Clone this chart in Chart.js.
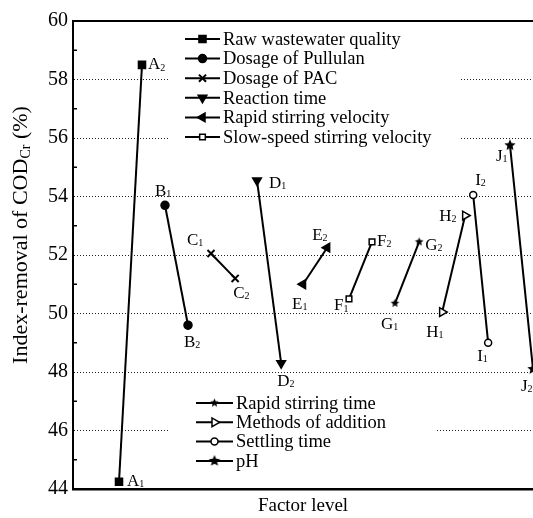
<!DOCTYPE html>
<html>
<head>
<meta charset="utf-8">
<script src="https://cdn.jsdelivr.net/npm/chart.js@4.4.0/dist/chart.umd.min.js"></script>
<style>
  html, body { margin: 0; padding: 0; background: #fff; }
  #wrap { width: 533px; height: 518px; }
</style>
</head>
<body>
<div id="wrap"><canvas id="myChart" width="533" height="518"></canvas></div>
<script>
// factors and their names
var factorLetters = ['A', 'B', 'C', 'D', 'E', 'F', 'G', 'H', 'I', 'J'];
var factorNames = ['Raw wastewater quality', 'Dosage of Pullulan', 'Dosage of PAC', 'Reaction time',
  'Rapid stirring velocity', 'Slow-speed stirring velocity', 'Rapid stirring time',
  'Methods of addition', 'Settling time', 'pH'];

// position along the "factor level" axis, level 1 and level 2
var level1X = [1, 3, 5, 7, 9, 11, 13, 15.05, 17.05, 18];
var level2X = [2, 4, 6.05, 8.05, 10.05, 12, 14.05, 16.05, 16.4, 19];

// index-removal of COD (%), level 1 and level 2
var level1Y = [44.25, 53.7, 52.05, 54.55, 51.0, 50.5, 50.35, 50.05, 49.0, 55.75];
var level2Y = [58.5, 49.6, 51.2, 48.3, 52.25, 52.45, 52.45, 53.35, 54.05, 48.1];

var yMin = 44, yMax = 60;

// ---- styles below ----
var FONT = '"Liberation Serif", "Times New Roman", serif';
Chart.defaults.font.family = FONT;
Chart.defaults.color = '#000';

function starImage(r) {
  var c = document.createElement('canvas');
  var s = Math.ceil(r * 2 + 2);
  c.width = s; c.height = s;
  var g = c.getContext('2d');
  g.fillStyle = '#000';
  g.beginPath();
  for (var i = 0; i < 10; i++) {
    var rr = i % 2 === 0 ? r : r * 0.45;
    var a = -Math.PI / 2 + i * Math.PI / 5;
    var px = s / 2 + rr * Math.cos(a), py = s / 2 + rr * Math.sin(a);
    if (i === 0) g.moveTo(px, py); else g.lineTo(px, py);
  }
  g.closePath();
  g.fill();
  return c;
}

var markers = [
  { pointStyle: 'rect', radius: 5, rotation: 0, fill: '#000' },
  { pointStyle: 'circle', radius: 4, rotation: 0, fill: '#000' },
  { pointStyle: 'crossRot', radius: 5, rotation: 0, fill: '#000' },
  { pointStyle: 'triangle', radius: 5, rotation: 180, fill: '#000' },
  { pointStyle: 'triangle', radius: 5, rotation: 270, fill: '#000' },
  { pointStyle: 'rect', radius: 4, rotation: 0, fill: '#fff' },
  { pointStyle: starImage(4.5), radius: 5, rotation: 0, fill: '#000' },
  { pointStyle: 'triangle', radius: 5, rotation: 90, fill: '#fff' },
  { pointStyle: 'circle', radius: 3.5, rotation: 0, fill: '#fff' },
  { pointStyle: starImage(6), radius: 6, rotation: 0, fill: '#000' }
];

// label offsets (px) from each point: [level1, level2]
var labelOffsets = [
  [[8, 0], [6, 0]],
  [[-10, -14], [-4, 17]],
  [[-24, -13], [-2, 15]],
  [[12, 3], [-4, 18]],
  [[-11, 20], [-15, -12]],
  [[-15, 7], [5, 0]],
  [[-14, 21], [6, 4]],
  [[-16, 20], [-26, 1]],
  [[-11, 14], [2, -15]],
  [[-14, 11], [-12, 17]]
];

// legend layout
var legendGroups = [
  { from: 0, to: 6, lineX1: 185, lineX2: 220, textX: 223, y0: 39, dy: 19.6, box: [170, 28, 290, 122] },
  { from: 6, to: 10, lineX1: 196, lineX2: 233, textX: 236, y0: 403, dy: 19.3, box: [168, 392, 267, 80] }
];

var datasets = factorLetters.map(function(letter, i) {
  var m = markers[i];
  return {
    label: factorNames[i],
    data: [{ x: level1X[i], y: level1Y[i] }, { x: level2X[i], y: level2Y[i] }],
    borderColor: '#000',
    borderWidth: 2,
    tension: 0,
    pointStyle: m.pointStyle,
    pointRadius: m.radius,
    pointRotation: m.rotation,
    pointBackgroundColor: m.fill,
    pointBorderColor: '#000',
    pointBorderWidth: m.pointStyle === 'crossRot' ? 2 : 1.5
  };
});

function drawMarker(ctx, i, x, y) {
  var m = markers[i];
  ctx.save();
  ctx.fillStyle = m.fill;
  ctx.strokeStyle = '#000';
  ctx.lineWidth = m.pointStyle === 'crossRot' ? 2 : 1.5;
  Chart.helpers.drawPoint(ctx, { pointStyle: m.pointStyle, rotation: m.rotation, radius: m.radius, borderWidth: ctx.lineWidth }, x, y);
  ctx.restore();
}

var decorPlugin = {
  id: 'decor',
  beforeDatasetsDraw: function(chart) {
    var ctx = chart.ctx, area = chart.chartArea, ys = chart.scales.y;
    ctx.save();
    ctx.fillStyle = '#fff';
    legendGroups.forEach(function(g) { ctx.fillRect(g.box[0], g.box[1], g.box[2], g.box[3]); });
    ctx.strokeStyle = '#000';
    ctx.lineWidth = 1.5;
    for (var v = yMin + 1; v < yMax; v += 2) {
      var py = ys.getPixelForValue(v);
      ctx.beginPath(); ctx.moveTo(area.left, py); ctx.lineTo(area.left + 4, py); ctx.stroke();
    }
    ctx.lineWidth = 2;
    ctx.beginPath(); ctx.moveTo(area.left - 1, area.top); ctx.lineTo(area.right, area.top); ctx.stroke();
    ctx.restore();
  },
  afterDraw: function(chart) {
    var ctx = chart.ctx;
    ctx.save();
    ctx.fillStyle = '#000';
    ctx.textBaseline = 'middle';
    // point labels with subscripts
    factorLetters.forEach(function(letter, i) {
      var meta = chart.getDatasetMeta(i);
      meta.data.forEach(function(pt, k) {
        var off = labelOffsets[i][k];
        var x = pt.x + off[0], y = pt.y + off[1];
        ctx.font = '17px ' + FONT;
        ctx.fillText(letter, x, y);
        var w = ctx.measureText(letter).width;
        ctx.font = '10px ' + FONT;
        ctx.fillText(String(k + 1), x + w, y + 3);
      });
    });
    // legends
    legendGroups.forEach(function(g) {
      for (var i = g.from; i < g.to; i++) {
        var y = g.y0 + (i - g.from) * g.dy;
        ctx.strokeStyle = '#000';
        ctx.lineWidth = 2;
        ctx.beginPath(); ctx.moveTo(g.lineX1, y); ctx.lineTo(g.lineX2, y); ctx.stroke();
        drawMarker(ctx, i, (g.lineX1 + g.lineX2) / 2, y);
        ctx.fillStyle = '#000';
        ctx.font = '18.5px ' + FONT;
        ctx.textBaseline = 'middle';
        ctx.fillText(factorNames[i], g.textX, y + 1);
      }
    });
    // y-axis title with subscript
    ctx.translate(21, 235);
    ctx.rotate(-Math.PI / 2);
    var parts = [['Index-removal of COD', 22, 0], ['Cr', 14, 5], [' (%)', 22, 0]];
    var total = 0;
    parts.forEach(function(p) { ctx.font = p[1] + 'px ' + FONT; total += ctx.measureText(p[0]).width; });
    var cx = -total / 2;
    parts.forEach(function(p) {
      ctx.font = p[1] + 'px ' + FONT;
      ctx.fillText(p[0], cx, p[2]);
      cx += ctx.measureText(p[0]).width;
    });
    ctx.restore();
  }
};

var ctx = document.getElementById('myChart').getContext('2d');
var myChart = new Chart(ctx, {
  type: 'line',
  data: { datasets: datasets },
  plugins: [decorPlugin],
  options: {
    responsive: false,
    devicePixelRatio: 1,
    animation: false,
    layout: { autoPadding: false, padding: { top: 21, right: 0, left: 0, bottom: 0 } },
    plugins: { legend: { display: false }, tooltip: { enabled: false } },
    scales: {
      x: {
        type: 'linear',
        min: -1,
        max: 19,
        grid: { display: false },
        ticks: { display: false },
        border: { display: true, color: '#000', width: 2.5 },
        title: { display: true, text: 'Factor level', font: { size: 19 }, color: '#000', padding: { top: 0, bottom: 1 } },
        afterFit: function(scale) { scale.height = 29; }
      },
      y: {
        min: yMin,
        max: yMax,
        ticks: {
          stepSize: 2,
          padding: 5,
          color: '#000',
          font: { size: 20 }
        },
        grid: {
          drawTicks: false,
          color: function(c) {
            var v = c.tick && c.tick.value;
            return (v > yMin && v < yMax) ? '#222' : 'rgba(0,0,0,0)';
          },
          lineWidth: 1
        },
        border: { display: true, color: '#000', width: 2, dash: [1, 2] },
        afterFit: function(scale) { scale.width = 73; }
      }
    }
  }
});
</script>
</body>
</html>
